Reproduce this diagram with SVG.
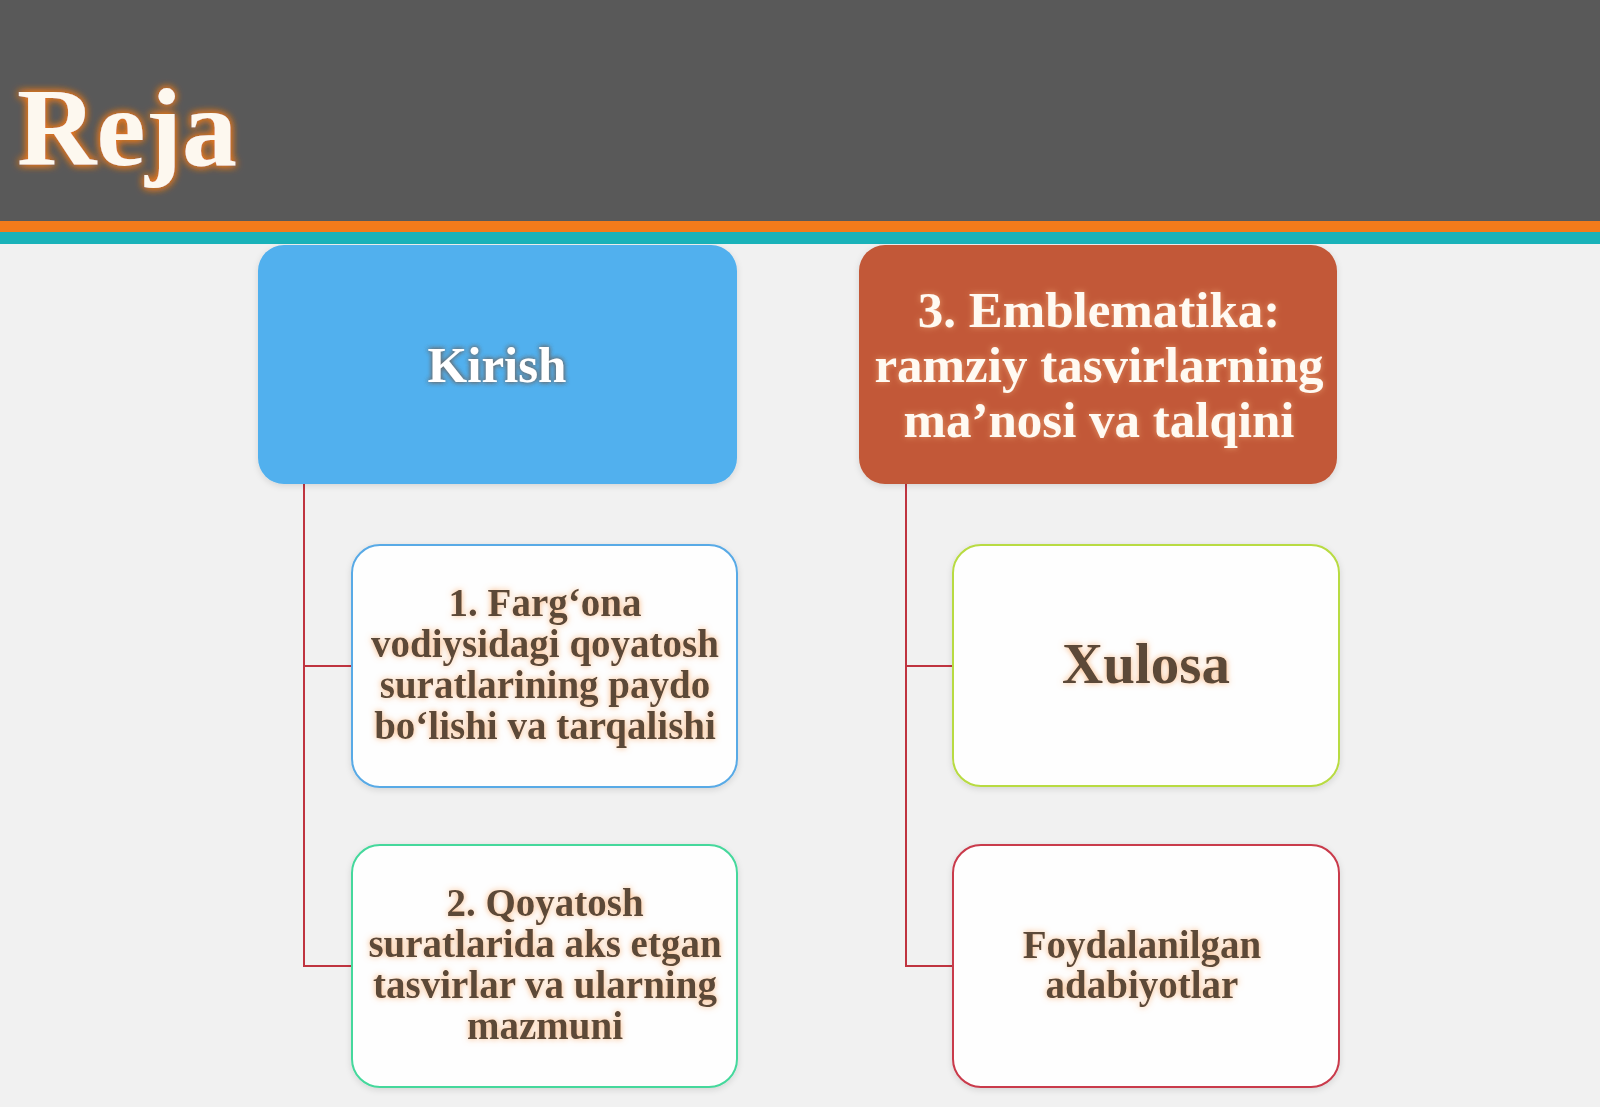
<svg xmlns="http://www.w3.org/2000/svg" width="1600" height="1107" viewBox="0 0 1600 1107">
  <defs>
    <filter id="glowTitle" x="-20%" y="-30%" width="140%" height="160%">
      <feGaussianBlur in="SourceAlpha" stdDeviation="4" result="b"/>
      <feFlood flood-color="#f07a1e" result="c"/>
      <feComposite in="c" in2="b" operator="in" result="g"/>
      <feMerge><feMergeNode in="g"/><feMergeNode in="g"/><feMergeNode in="SourceGraphic"/></feMerge>
    </filter>
    <filter id="glowBrown" x="-20%" y="-30%" width="140%" height="160%">
      <feGaussianBlur in="SourceAlpha" stdDeviation="3" result="b"/>
      <feFlood flood-color="#f6a868" flood-opacity="0.85" result="c"/>
      <feComposite in="c" in2="b" operator="in" result="g"/>
      <feMerge><feMergeNode in="g"/><feMergeNode in="SourceGraphic"/></feMerge>
    </filter>
    <filter id="glowGrey" x="-20%" y="-30%" width="140%" height="160%">
      <feGaussianBlur in="SourceAlpha" stdDeviation="2.5" result="b"/>
      <feFlood flood-color="#6a6a6a" result="c"/>
      <feComposite in="c" in2="b" operator="in" result="g"/>
      <feMerge><feMergeNode in="g"/><feMergeNode in="g"/><feMergeNode in="SourceGraphic"/></feMerge>
    </filter>
    <filter id="glowWarm" x="-20%" y="-30%" width="140%" height="160%">
      <feGaussianBlur in="SourceAlpha" stdDeviation="3" result="b"/>
      <feFlood flood-color="#f4b07a" flood-opacity="0.7" result="c"/>
      <feComposite in="c" in2="b" operator="in" result="g"/>
      <feMerge><feMergeNode in="g"/><feMergeNode in="SourceGraphic"/></feMerge>
    </filter>
    <filter id="boxShadow" x="-5%" y="-5%" width="110%" height="115%">
      <feGaussianBlur in="SourceAlpha" stdDeviation="3" result="b"/>
      <feOffset dx="0" dy="2" in="b" result="o"/>
      <feFlood flood-color="#000" flood-opacity="0.12" result="c"/>
      <feComposite in="c" in2="o" operator="in" result="s"/>
      <feMerge><feMergeNode in="s"/><feMergeNode in="SourceGraphic"/></feMerge>
    </filter>
  </defs>
  <style>
    .t { font-family: "Liberation Serif", "Times New Roman", serif; font-weight: bold; text-anchor: middle; }
    .brown { fill: #5c4838; font-size: 39px; filter: url(#glowBrown); }
    .sub { fill: #fefefe; stroke-width: 2; filter: url(#boxShadow); }
    .conn { fill: none; stroke: #bf3440; stroke-width: 2; }
  </style>

  <!-- background -->
  <rect x="0" y="0" width="1600" height="1107" fill="#f1f1f1"/>
  <!-- header -->
  <g id="header">
    <rect x="0" y="0" width="1600" height="221" fill="#595959"/>
    <rect x="0" y="221" width="1600" height="11" fill="#f37b1b"/>
    <rect x="0" y="232" width="1600" height="12" fill="#19b2b9"/>
    <text x="17" y="165" font-family="Liberation Serif, 'Times New Roman', serif" font-weight="bold" font-size="110" fill="#fdf8ef" filter="url(#glowTitle)">Reja</text>
  </g>

  <!-- connectors -->
  <g id="connectors">
    <path class="conn" d="M304 484 V966 H352 M304 666 H352"/>
    <path class="conn" d="M906 484 V966 H953 M906 666 H953"/>
  </g>

  <g id="kirish">
    <rect x="258" y="245" width="479" height="239" rx="26" fill="#51b0ee" filter="url(#boxShadow)"/>
    <text class="t" x="497" y="382" font-size="51" fill="#ffffff" filter="url(#glowGrey)">Kirish</text>
  </g>

  <g id="item1">
    <rect class="sub" x="352" y="545" width="385" height="242" rx="28" stroke="#59aae6"/>
    <text class="t brown" x="545" y="616">1. Farg‘ona</text>
    <text class="t brown" x="545" y="657">vodiysidagi qoyatosh</text>
    <text class="t brown" x="545" y="698">suratlarining paydo</text>
    <text class="t brown" x="545" y="739">bo‘lishi va tarqalishi</text>
  </g>

  <g id="item2">
    <rect class="sub" x="352" y="845" width="385" height="242" rx="28" stroke="#45d89c"/>
    <text class="t brown" x="545" y="916">2. Qoyatosh</text>
    <text class="t brown" x="545" y="957">suratlarida aks etgan</text>
    <text class="t brown" x="545" y="998">tasvirlar va ularning</text>
    <text class="t brown" x="545" y="1039">mazmuni</text>
  </g>

  <g id="emblematika">
    <rect x="859" y="245" width="478" height="239" rx="26" fill="#c25837" filter="url(#boxShadow)"/>
    <text class="t" x="1099" y="327" font-size="51" fill="#fffaf2" filter="url(#glowWarm)">3. Emblematika:</text>
    <text class="t" x="1099" y="382" font-size="51" fill="#fffaf2" filter="url(#glowWarm)">ramziy tasvirlarning</text>
    <text class="t" x="1099" y="437" font-size="51" fill="#fffaf2" filter="url(#glowWarm)">ma’nosi va talqini</text>
  </g>

  <g id="xulosa">
    <rect class="sub" x="953" y="545" width="386" height="241" rx="28" stroke="#b8db42"/>
    <text class="t" x="1146" y="683" font-size="57" fill="#5c4838" filter="url(#glowBrown)">Xulosa</text>
  </g>

  <g id="adabiyotlar">
    <rect class="sub" x="953" y="845" width="386" height="242" rx="28" stroke="#c93a4b"/>
    <text class="t brown" x="1142" y="958">Foydalanilgan</text>
    <text class="t brown" x="1142" y="998">adabiyotlar</text>
  </g>
</svg>
